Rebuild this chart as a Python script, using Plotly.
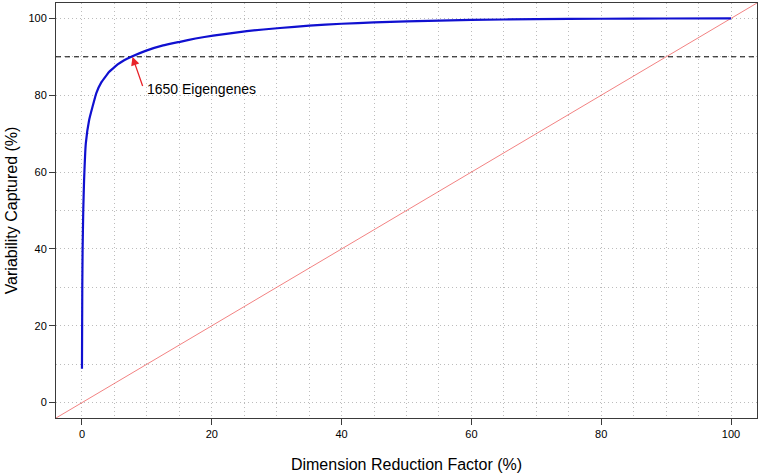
import plotly.graph_objects as go

# Curve: dimension reduction factor (%) vs variability captured (%)
reduction_pct = [0, 0.05, 0.1, 0.2, 0.33, 0.59, 1.1, 2.2, 3.0, 4.2, 4.8, 5.5, 6.5, 7.6, 9.9,
                 12.5, 15.1, 17.5, 20.2, 25.4, 30.5, 35, 40, 45, 50, 60, 70, 80, 90, 100]
variability_pct = [8.8, 30, 40, 50, 58, 67.4, 73.5, 80.5, 83.4, 86.1, 87.0, 88.0, 89.1, 90.0,
                   91.6, 92.96, 93.9, 94.77, 95.5, 96.7, 97.5, 98.1, 98.6, 98.95, 99.2, 99.6,
                   99.8, 99.9, 99.97, 100]

threshold = 90
diag_x = [-4, 104]
arrow_tail = (9.43, 82.0)
arrow_head = (7.78, 90.0)
annot_text = "1650 Eigengenes"

x_ticks = [0, 20, 40, 60, 80, 100]
y_ticks = [0, 20, 40, 60, 80, 100]

fig = go.Figure()

fig.add_trace(go.Scatter(x=diag_x, y=diag_x, mode="lines",
                         line=dict(color="rgba(235,70,70,0.85)", width=0.8),
                         hoverinfo="skip", showlegend=False))
fig.add_trace(go.Scatter(x=diag_x, y=[threshold, threshold], mode="lines",
                         line=dict(color="black", width=1, dash="5px,4px"),
                         hoverinfo="skip", showlegend=False))
fig.add_trace(go.Scatter(x=reduction_pct, y=variability_pct, mode="lines",
                         line=dict(color="#1010d0", width=2.2, shape="spline", smoothing=0.3),
                         showlegend=False))

fig.add_annotation(x=arrow_head[0], y=arrow_head[1], ax=arrow_tail[0], ay=arrow_tail[1],
                   xref="x", yref="y", axref="x", ayref="y", text="",
                   showarrow=True, arrowhead=2, arrowsize=1.3, arrowwidth=1.3,
                   arrowcolor="#e8232a", standoff=0)
fig.add_annotation(x=arrow_tail[0], y=arrow_tail[1] - 0.3, xref="x", yref="y",
                   text=annot_text, showarrow=False, xanchor="left", yanchor="middle",
                   xshift=2, font=dict(size=14, color="black"))

grid_color = "#bcbcbc"
grid_dash = "1px,3px"

axis_common = dict(
    showline=True, linecolor="#3a3a3a", linewidth=1, mirror=True,
    ticks="outside", ticklen=6, tickcolor="#3a3a3a", tickwidth=1,
    showgrid=True, gridcolor=grid_color, griddash=grid_dash, gridwidth=1,
    zeroline=False, tickfont=dict(size=11, color="black"),
)

fig.update_xaxes(range=[-4, 104], tickvals=x_ticks,
                 minor=dict(dtick=5, tick0=0, showgrid=True, gridcolor=grid_color,
                            griddash=grid_dash, ticks=""),
                 title=dict(text="Dimension Reduction Factor (%)", font=dict(size=16, color="black"),
                            standoff=19),
                 **axis_common)
fig.update_yaxes(range=[-4, 104], tickvals=y_ticks,
                 minor=dict(dtick=10, tick0=0, showgrid=True, gridcolor=grid_color,
                            griddash=grid_dash, ticks=""),
                 title=dict(text="Variability Captured (%)", font=dict(size=16, color="black"),
                            standoff=6),
                 **axis_common)

fig.update_layout(
    width=760, height=473,
    margin=dict(l=56, r=3, t=3, b=55),
    plot_bgcolor="white", paper_bgcolor="white",
    font=dict(family="Liberation Sans, Arial, sans-serif", color="black"),
)

fig.write_html("out.html", config={"displayModeBar": False},
               post_script="document.body.style.margin='0';")
